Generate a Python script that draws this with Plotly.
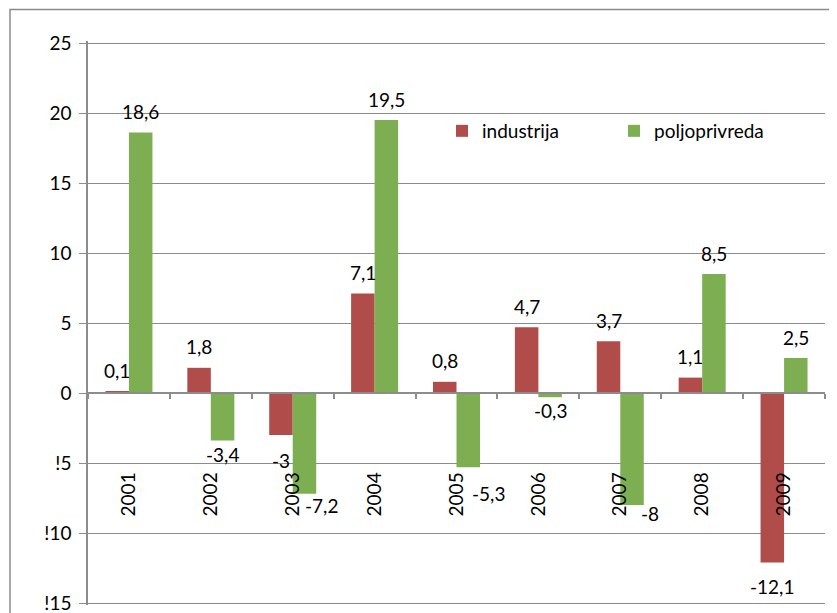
import plotly.graph_objects as go

years = ["2001", "2002", "2003", "2004", "2005", "2006", "2007", "2008", "2009"]
industrija = [0.1, 1.8, -3, 7.1, 0.8, 4.7, 3.7, 1.1, -12.1]
poljoprivreda = [18.6, -3.4, -7.2, 19.5, -5.3, -0.3, -8, 8.5, 2.5]
series_names = ["industrija", "poljoprivreda"]

y_tickvals = [-15, -10, -5, 0, 5, 10, 15, 20, 25]
y_ticktext = ["!15", "!10", "!5", "0", "5", "10", "15", "20", "25"]

# label pixel nudges (style only)
ind_dx = [0, 0, 0, 0, 0, 0, 0, 0, 0]
ind_dy = [None, None, -25, None, None, None, None, None, -24]
pol_dx = [0, 0, 17, 0, 20, 0, 18, 0, 0]
pol_dy = [None, -14, -12, None, -26, -13, -8, None, None]

RED = "#B04D4B"
GREEN = "#7DAF52"
GRID = "#8C8C8C"
FONT = "Lato, 'Open Sans', sans-serif"
FS = 19

# page body has an 8px margin, so the figure is drawn offset by (8, 8)
OFF = 8
PAD = 2  # px of extra range so the end gridlines are kept
PXU = 14.0  # pixels per unit
W, H = 837 - OFF, 613 - OFF
ML, MR, MT, MB = 88 - OFF, 12, 43 - OFF - PAD, 10 - PAD
PW = W - ML - MR
PH = H - MT - MB
BARGAP = 0.426
ymin, ymax = -15, 25
ext = PAD / PXU
yr = [ymin - ext, ymax + ext]
plot_bottom_screen = 603 + PAD

fig = go.Figure()
fig.add_trace(go.Bar(x=years, y=industrija, name=series_names[0], marker=dict(color=RED, line=dict(width=0))))
fig.add_trace(go.Bar(x=years, y=poljoprivreda, name=series_names[1], marker=dict(color=GREEN, line=dict(width=0))))

cat_px = PW / len(years)
bar_px = cat_px * (1 - BARGAP) / 2

def fmt(v):
    return f"{v:g}".replace(".", ",")

annotations = []
for vals, dxs, dys, side in ((industrija, ind_dx, ind_dy, -1), (poljoprivreda, pol_dx, pol_dy, 1)):
    for i, v in enumerate(vals):
        dy = dys[i] if dys[i] is not None else (21 if v >= 0 else -13)
        annotations.append(dict(
            x=i, y=v, xref="x", yref="y", text=fmt(v), showarrow=False,
            xshift=side * bar_px / 2 + dxs[i], yshift=dy,
            font=dict(family=FONT, size=FS, color="#000000"),
        ))

fig.update_layout(
    width=W, height=H,
    margin=dict(l=ML, r=MR, t=MT, b=MB, autoexpand=False),
    paper_bgcolor="white", plot_bgcolor="white",
    barmode="group", bargap=BARGAP, bargroupgap=0,
    font=dict(family=FONT, size=FS, color="#000000"),
    showlegend=True,
    legend=dict(
        orientation="h", x=(442 - 88) / PW, xanchor="left",
        y=(plot_bottom_screen - 131) / PH, yanchor="middle",
        entrywidth=127, entrywidthmode="pixels",
        font=dict(family=FONT, size=FS, color="#000000"),
        bgcolor="rgba(0,0,0,0)", itemwidth=30,
    ),
    annotations=annotations,
    shapes=[dict(
        type="rect", xref="paper", yref="paper",
        x0=(10 - 88) / PW, x1=1.2, y0=-0.2, y1=(plot_bottom_screen - 9.5) / PH,
        line=dict(color="#8A8A8A", width=1.5), fillcolor="rgba(0,0,0,0)", layer="below",
    )],
)

fig.update_yaxes(
    range=yr, tickvals=y_tickvals, ticktext=y_ticktext,
    showgrid=True, gridcolor=GRID, gridwidth=1, zeroline=False,
    showline=True, linecolor=GRID, linewidth=1.5,
    ticks="outside", ticklen=7, tickcolor=GRID, tickwidth=1,
    ticklabelstandoff=4, ticklabeloverflow="allow",
    tickfont=dict(family=FONT, size=FS, color="#000000"),
)

fig.update_xaxes(
    type="category", categoryorder="array", categoryarray=years,
    range=[-0.5, len(years) - 0.5], autorange=False,
    anchor="free", position=(0 - yr[0]) / (yr[1] - yr[0]),
    showline=True, linecolor=GRID, linewidth=1.5,
    ticks="outside", tickson="boundaries", ticklen=5, tickcolor=GRID, tickwidth=1.5,
    tickangle=-90, ticklabelstandoff=71, showgrid=False,
    ticklabeloverflow="allow",
    tickfont=dict(family=FONT, size=FS, color="#000000"),
)

fig.write_html("out.html")
